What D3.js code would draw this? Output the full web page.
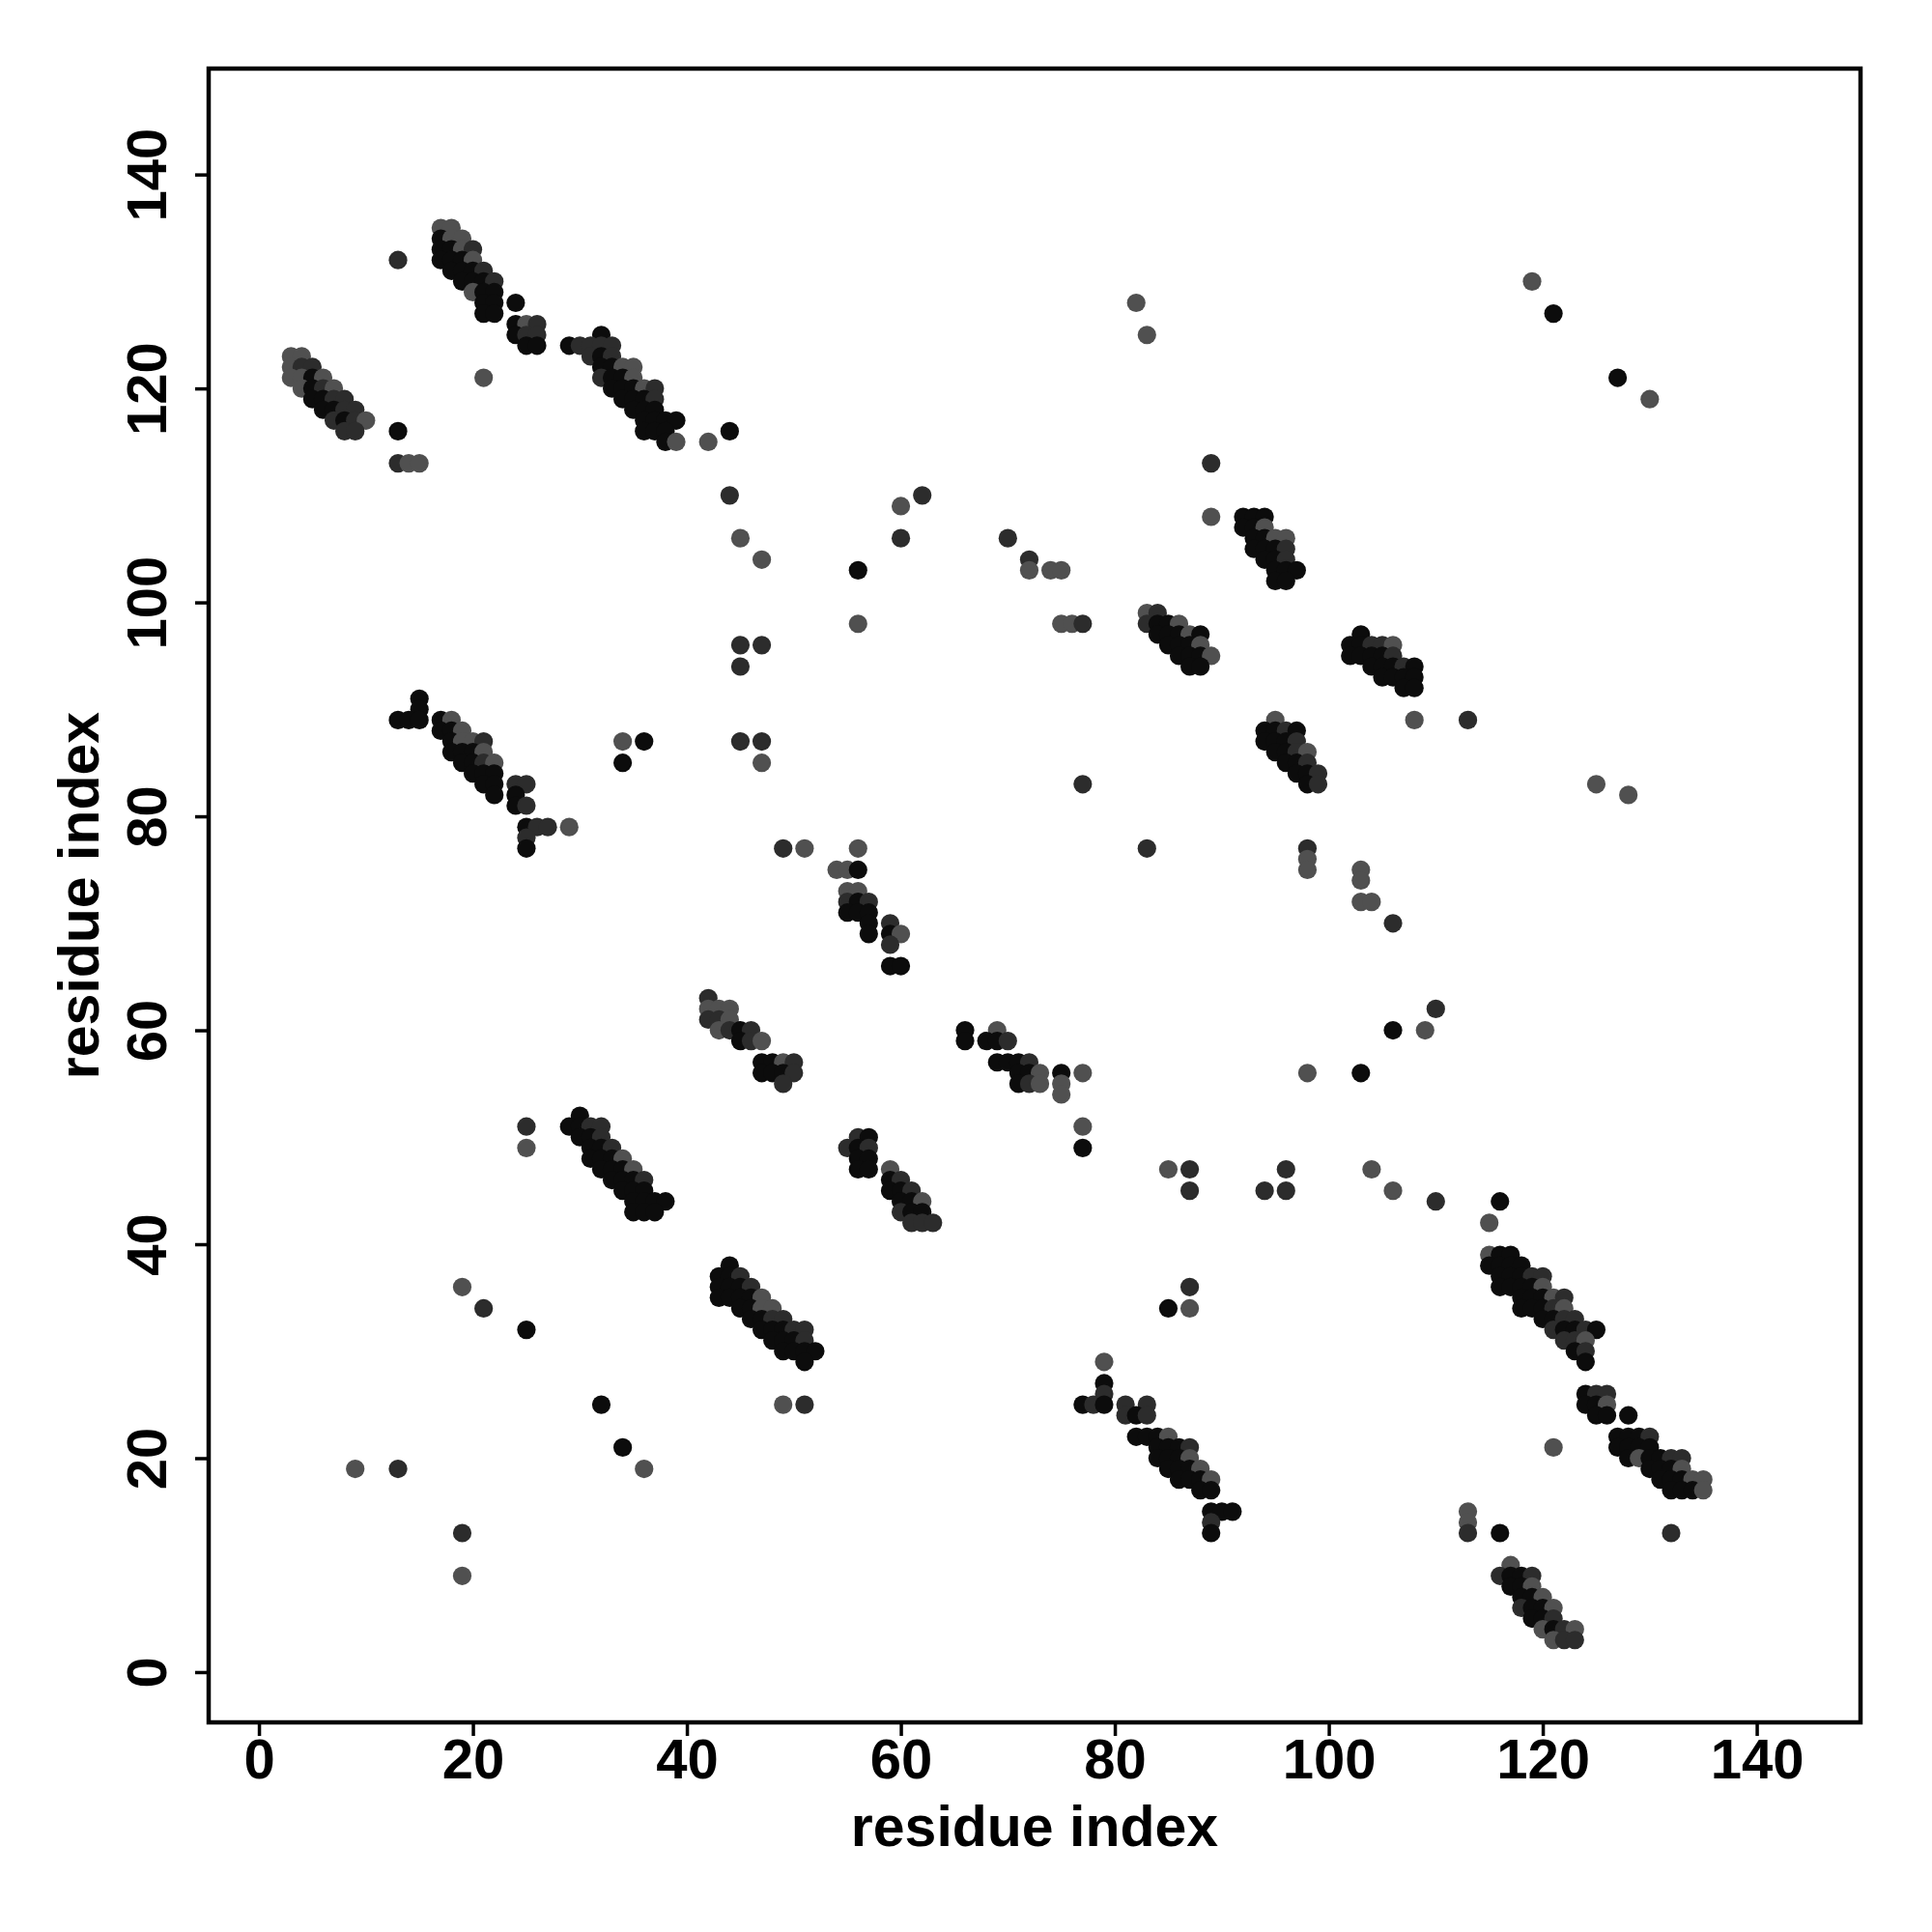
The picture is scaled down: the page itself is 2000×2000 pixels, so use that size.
<!DOCTYPE html>
<html>
<head>
<meta charset="utf-8">
<script src="https://cdn.jsdelivr.net/npm/d3@7"></script>
<style>
  html, body { margin: 0; padding: 0; background: #fff; }
  svg { display: block; }
  text { font-family: "Liberation Sans", Arial, Helvetica, sans-serif; font-weight: bold; fill: #000; }
</style>
</head>
<body>
<svg id="chart" width="2000" height="2000"></svg>
<script>
// ---- data: contacts [residue i, residue j, confidence level 1 (weak) .. 3 (strong)] ----
const xTicks = [0, 20, 40, 60, 80, 100, 120, 140];
const yTicks = [0, 20, 40, 60, 80, 100, 120, 140];
const axisTitleX = "residue index";
const axisTitleY = "residue index";

const band1 = [
  [3,123,1],[4,123,1],[3,122,1],[4,122,2],[5,122,2],
  [3,121,1],[4,121,1],[5,121,3],[6,121,1],
  [4,120,1],[5,120,3],[6,120,2],[7,120,1],
  [5,119,3],[6,119,3],[7,119,2],[8,119,2],
  [6,118,3],[7,118,3],[8,118,2],[9,118,2],
  [7,117,2],[8,117,3],[9,117,2],[10,117,1],
  [8,116,2],[9,116,2]
];
const band2 = [
  [17,135,1],[18,135,1],
  [17,134,3],[18,134,1],[19,134,1],
  [17,133,3],[18,133,3],[19,133,1],[20,133,2],
  [17,132,3],[18,132,3],[19,132,3],[20,132,1],
  [18,131,3],[19,131,3],[20,131,3],[21,131,2],
  [19,130,3],[20,130,3],[21,130,3],[22,130,2],
  [20,129,1],[21,129,3],[22,129,3],
  [21,128,3],[22,128,3],[21,127,3],[22,127,3],
  [24,126,3],[25,126,1],[26,126,2],
  [24,125,3],[25,125,2],[26,125,2],
  [25,124,3],[26,124,3]
];
const band3 = [
  [32,125,3],
  [29,124,3],[30,124,2],[31,124,2],[32,124,2],[33,124,2],
  [31,123,2],[32,123,3],[33,123,2],
  [32,122,3],[33,122,3],[34,122,1],[35,122,1],
  [32,121,2],[33,121,3],[34,121,3],[35,121,1],
  [33,120,3],[34,120,3],[35,120,3],[36,120,1],[37,120,2],
  [34,119,3],[35,119,3],[36,119,3],[37,119,2],
  [35,118,3],[36,118,3],[37,118,3],
  [36,117,3],[37,117,3],[38,117,3],[39,117,3],
  [36,116,3],[37,116,3],[38,116,3],
  [38,115,3],[39,115,1]
];
const band4 = [
  [92,108,3],[93,108,3],[94,108,3],
  [92,107,3],[93,107,3],[94,107,1],
  [93,106,3],[94,106,3],[95,106,1],[96,106,1],
  [93,105,3],[94,105,3],[95,105,3],[96,105,2],
  [94,104,3],[95,104,3],[96,104,2],
  [95,103,3],[96,103,3],[97,103,3],
  [95,102,3],[96,102,3]
];
const band5 = [
  [83,99,1],[84,99,2],
  [83,98,2],[84,98,3],[85,98,3],[86,98,1],
  [84,97,3],[85,97,3],[86,97,3],[87,97,1],[88,97,3],
  [85,96,3],[86,96,3],[87,96,3],[88,96,1],
  [86,95,3],[87,95,3],[88,95,3],[89,95,1],
  [87,94,3],[88,94,3]
];
const band6 = [
  [103,97,3],
  [102,96,3],[103,96,3],[104,96,2],[105,96,2],[106,96,1],
  [102,95,3],[103,95,3],[104,95,3],[105,95,3],[106,95,2],
  [104,94,3],[105,94,3],[106,94,3],[107,94,2],[108,94,3],
  [105,93,3],[106,93,3],[107,93,3],[108,93,3],
  [107,92,3],[108,92,3]
];
const band7 = [
  [15,91,3],[15,90,3],
  [13,89,3],[14,89,3],[15,89,3],[17,89,3],[18,89,1],
  [17,88,3],[18,88,3],[19,88,1],
  [18,87,3],[19,87,1],[20,87,1],[21,87,2],
  [18,86,3],[19,86,3],[20,86,3],[21,86,1],
  [19,85,3],[20,85,3],[21,85,2],[22,85,1],
  [20,84,3],[21,84,3],[22,84,3],
  [21,83,3],[22,83,3],[24,83,2],[25,83,2],
  [22,82,3],[24,82,3],[24,81,3],[25,81,2],
  [25,79,3],[26,79,2],[27,79,2],[29,79,1],
  [25,78,2],[25,77,3]
];
const band8 = [
  [42,63,2],
  [42,62,1],[43,62,1],[44,62,1],
  [42,61,2],[43,61,2],[44,61,1],
  [43,60,1],[44,60,2],[45,60,3],[46,60,2],
  [45,59,3],[46,59,2],[47,59,1],
  [47,57,3],[48,57,3],[49,57,1],[50,57,2],
  [47,56,3],[48,56,3],[49,56,3],[50,56,2],
  [49,55,2]
];
const band9 = [
  [30,52,3],
  [29,51,3],[30,51,3],[31,51,2],[32,51,2],
  [30,50,3],[31,50,3],[32,50,2],
  [31,49,3],[32,49,3],[33,49,2],
  [31,48,3],[32,48,3],[33,48,3],[34,48,1],
  [32,47,3],[33,47,3],[34,47,3],[35,47,1],
  [33,46,3],[34,46,3],[35,46,3],[36,46,2],
  [34,45,3],[35,45,3],[36,45,3],
  [35,44,3],[36,44,3],[37,44,3],[38,44,3],
  [35,43,3],[36,43,3],[37,43,3]
];
const band10 = [
  [54,75,1],[55,75,1],[56,75,3],
  [55,73,1],[56,73,1],
  [55,72,2],[56,72,3],[57,72,2],
  [55,71,3],[56,71,3],[57,71,3],
  [57,70,3],[59,70,2],
  [57,69,3],[59,69,3],[60,69,1],
  [59,68,2],
  [59,66,3],[60,66,3]
];
const band11 = [
  [66,60,3],[69,60,1],
  [66,59,3],[68,59,3],[69,59,3],[70,59,2],
  [69,57,3],[70,57,3],[71,57,3],[72,57,2],
  [71,56,3],[72,56,3],[73,56,1],[75,56,3],[77,56,1],
  [71,55,3],[72,55,2],[73,55,1],[75,55,1],
  [75,54,1]
];
const band12 = [
  [56,50,2],[57,50,3],
  [55,49,2],[56,49,3],[57,49,2],
  [56,48,3],[57,48,3],
  [56,47,3],[57,47,3],[59,47,1],
  [59,46,3],[60,46,2],
  [59,45,3],[60,45,3],[61,45,2],
  [60,44,3],[61,44,3],[62,44,1],
  [60,43,2],[61,43,3],[62,43,3],
  [61,42,2],[62,42,2],[63,42,2]
];
const band13 = [
  [95,89,1],
  [94,88,3],[95,88,3],[96,88,2],[97,88,3],
  [94,87,3],[95,87,3],[96,87,3],[97,87,2],
  [95,86,3],[96,86,3],[97,86,2],[98,86,1],
  [96,85,3],[97,85,3],[98,85,2],
  [97,84,3],[98,84,3],[99,84,2],
  [98,83,3],[99,83,2]
];
const band14 = [
  [44,38,3],
  [43,37,3],[44,37,3],[45,37,2],
  [43,36,3],[44,36,3],[45,36,3],[46,36,2],
  [43,35,3],[44,35,3],[45,35,3],[46,35,3],[47,35,1],
  [45,34,3],[46,34,3],[47,34,1],[48,34,1],
  [46,33,3],[47,33,3],[48,33,2],[49,33,2],
  [47,32,3],[48,32,3],[49,32,3],[50,32,2],[51,32,2],
  [48,31,3],[49,31,3],[50,31,3],[51,31,2],
  [49,30,3],[50,30,3],[51,30,3],[52,30,3],
  [51,29,3]
];
const band15 = [
  [79,29,1],[79,27,3],[79,26,2],
  [77,25,3],[78,25,2],[79,25,3],[81,25,2],[83,25,2],
  [81,24,2],[82,24,3],[83,24,2],
  [82,22,3],[83,22,3],[84,22,3],[85,22,1],
  [84,21,3],[85,21,3],[86,21,3],[87,21,2],
  [84,20,3],[85,20,3],[86,20,3],[87,20,1],
  [85,19,3],[86,19,3],[87,19,3],[88,19,1],
  [86,18,3],[87,18,3],[88,18,3],[89,18,1],
  [88,17,3],[89,17,3],
  [89,15,3],[90,15,3],[91,15,3],
  [89,14,2],[89,13,3]
];
const band16 = [
  [115,39,1],[116,39,3],[117,39,3],
  [115,38,3],[116,38,3],[117,38,3],[118,38,3],
  [116,37,3],[117,37,3],[118,37,3],[119,37,2],[120,37,2],
  [116,36,3],[117,36,3],[118,36,3],[119,36,3],[120,36,1],
  [118,35,3],[119,35,3],[120,35,3],[121,35,1],[122,35,2],
  [118,34,3],[119,34,3],[120,34,3],[121,34,2],[122,34,1],
  [120,33,3],[121,33,3],[122,33,2],[123,33,2],
  [121,32,2],[122,32,3],[123,32,3],[124,32,2],[125,32,3],
  [122,31,2],[123,31,2],[124,31,1],
  [123,30,3],[124,30,2],
  [124,29,3]
];
const band17 = [
  [124,26,3],[125,26,2],[126,26,2],
  [124,25,3],[125,25,3],[126,25,1],
  [125,24,3],[126,24,3],[128,24,3],
  [127,22,3],[128,22,3],[129,22,3],[130,22,2],
  [127,21,3],[128,21,3],[129,21,3],[130,21,3],
  [128,20,3],[129,20,1],[130,20,3],[131,20,3],[132,20,2],[133,20,2],
  [130,19,3],[131,19,3],[132,19,3],[133,19,1],
  [131,18,3],[132,18,3],[133,18,3],[134,18,1],[135,18,1],
  [132,17,3],[133,17,3],[134,17,3],[135,17,1]
];
const band18 = [
  [117,10,1],
  [116,9,2],[117,9,3],[118,9,3],[119,9,2],
  [117,8,3],[118,8,3],[119,8,1],
  [118,7,3],[119,7,3],[120,7,1],
  [118,6,2],[119,6,3],[120,6,3],[121,6,1],
  [119,5,3],[120,5,3],[121,5,2],
  [120,4,1],[121,4,3],[122,4,2],[123,4,1],
  [121,3,1],[122,3,2],[123,3,2]
];
const singles = [
  [13,132,2],[13,116,3],[13,113,2],[14,113,1],[15,113,1],[21,121,1],[24,128,3],
  [42,115,1],[44,116,3],[44,110,2],[45,106,1],[47,104,1],[45,96,2],[47,96,2],[45,94,2],
  [82,128,1],[83,125,1],[89,113,2],[89,108,1],[62,110,2],[60,109,1],[60,106,2],[70,106,2],
  [56,103,3],[72,104,2],[72,103,1],[74,103,1],[75,103,1],[56,98,1],[75,98,1],[76,98,1],[77,98,2],
  [119,130,1],[121,127,3],[127,121,3],[130,119,1],
  [34,87,1],[36,87,3],[34,85,3],[45,87,2],[47,87,2],[47,85,1],[77,83,2],
  [49,77,2],[51,77,1],[56,77,1],[83,77,2],[98,77,2],[98,76,1],[98,75,1],
  [108,89,1],[113,89,2],[125,83,1],[128,82,1],[103,75,1],[103,74,1],[103,72,1],[104,72,1],
  [106,70,2],[110,62,2],[106,60,3],[109,60,1],[98,56,1],[103,56,3],
  [104,47,1],[106,45,1],[110,44,2],[116,44,3],[115,42,1],
  [25,51,2],[25,49,1],[77,51,1],[77,49,3],
  [19,36,1],[21,34,2],[25,32,3],[32,25,3],[34,21,3],[36,19,1],[9,19,1],[13,19,2],[19,13,2],[19,9,1],
  [49,25,1],[51,25,2],
  [85,47,1],[87,47,2],[87,45,2],[94,45,2],[96,47,2],[96,45,2],[87,36,2],[85,34,3],[87,34,1],
  [121,21,1],[113,15,1],[113,14,1],[113,13,2],[116,13,3],[132,13,2]
];

// ---- drawing ----
const contacts = [].concat(band1, band2, band3, band4, band5, band6, band7, band8, band9,
  band10, band11, band12, band13, band14, band15, band16, band17, band18, singles)
  .map(d => ({ i: d[0], j: d[1], level: d[2] }));

const svg = d3.select("#chart");
const mLeft = 216, mRight = 1926, mTop = 71, mBottom = 1783;

const x = d3.scaleLinear().domain([-4.7, 149.7]).range([mLeft, mRight]);
const y = d3.scaleLinear().domain([-4.7, 149.9]).range([mBottom, mTop]);
const shade = d3.scaleOrdinal().domain([1, 2, 3]).range(["#505050", "#2c2c2c", "#0c0c0c"]);

svg.append("rect").attr("width", 2000).attr("height", 2000).attr("fill", "#fff");

svg.append("g")
  .selectAll("circle")
  .data(contacts)
  .join("circle")
  .attr("cx", d => x(d.i))
  .attr("cy", d => y(d.j))
  .attr("r", 9.6)
  .attr("fill", d => shade(d.level));

// frame
svg.append("rect")
  .attr("x", mLeft).attr("y", mTop)
  .attr("width", mRight - mLeft).attr("height", mBottom - mTop)
  .attr("fill", "none").attr("stroke", "#000").attr("stroke-width", 4.5);

const fs = 58;

// x axis
const gx = svg.append("g").attr("transform", `translate(0,${mBottom})`)
  .call(d3.axisBottom(x).tickValues(xTicks).tickSize(14).tickFormat(d3.format("d")));
gx.select(".domain").remove();
gx.selectAll(".tick line").attr("stroke", "#000").attr("stroke-width", 3.5);
gx.selectAll(".tick text")
  .attr("y", 58).attr("dy", null)
  .style("font-size", fs + "px").attr("fill", "#000");

// y axis
const gy = svg.append("g").attr("transform", `translate(${mLeft},0)`)
  .call(d3.axisLeft(y).tickValues(yTicks).tickSize(14).tickFormat(d3.format("d")));
gy.select(".domain").remove();
gy.selectAll(".tick line").attr("stroke", "#000").attr("stroke-width", 3.5);
gy.selectAll(".tick text")
  .attr("transform", "rotate(-90)")
  .attr("x", 0).attr("y", -44).attr("dy", null)
  .attr("text-anchor", "middle")
  .style("font-size", fs + "px").attr("fill", "#000");

// axis titles
svg.append("text")
  .attr("x", (mLeft + mRight) / 2).attr("y", 1911)
  .attr("text-anchor", "middle")
  .style("font-size", "59px")
  .text(axisTitleX);

svg.append("text")
  .attr("transform", `translate(102,${(mTop + mBottom) / 2}) rotate(-90)`)
  .attr("text-anchor", "middle")
  .style("font-size", "59px")
  .text(axisTitleY);
</script>
</body>
</html>
